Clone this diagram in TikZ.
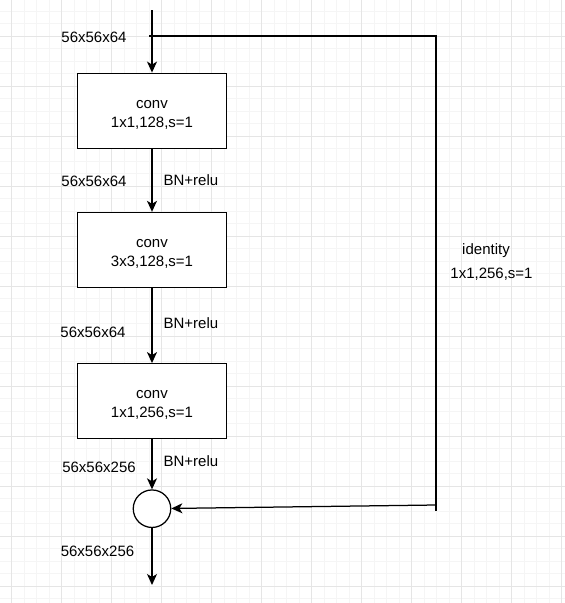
\documentclass[tikz,border=0pt]{standalone}
\usepackage{fontspec}
\setmainfont{Liberation Sans}
\usepackage{tikz}
\usetikzlibrary{positioning}
\usetikzlibrary{arrows.meta}

\tikzset{
    minorgrid/.style={draw=black!4,line width=0.8pt},
    majorgrid/.style={draw=black!10,line width=0.8pt},
    convbox/.style={rectangle,draw,fill=white,minimum width=149pt,minimum height=75pt,align=center},
    dimlabel/.style={inner sep=0pt,anchor=base},
    actlabel/.style={inner sep=0pt,anchor=base west}
}
\newcommand{\boxtop}{\rule{0pt}{16pt}}

\begin{document}
\begin{tikzpicture}[x=1pt,y=-1pt,line width=1.25pt,>={Stealth[length=11pt,width=10pt,inset=3pt]},font=\fontsize{15}{19}\selectfont]
    \useasboundingbox (0,0) rectangle (565,603);
    \fill[white] (0,0) rectangle (565,603);
    % grid
    \foreach \k in {-1,...,44} \draw[minorgrid] ({11.7+12.5*\k},0) -- ({11.7+12.5*\k},603);
    \foreach \k in {-2,...,45} \draw[minorgrid] (0,{36+12.5*\k}) -- (565,{36+12.5*\k});
    \foreach \k in {0,...,11} \draw[majorgrid] ({11.7+50*\k},0) -- ({11.7+50*\k},603);
    \foreach \k in {0,...,11} \draw[majorgrid] (0,{36+50*\k}) -- (565,{36+50*\k});

    \node[convbox] (C1) at (152,110.7) {\boxtop conv\\1x1,128,s=1};
    \node[convbox] (C2) [below=63pt of C1] {\boxtop conv\\3x3,128,s=1};
    \node[convbox] (C3) [below=75pt of C2] {\boxtop conv\\1x1,256,s=1};
    \node[circle,draw,fill=white,minimum size=37.5pt,inner sep=0pt] (A) [below=50pt of C3] {};

    \coordinate (top) at (152,10);
    \coordinate (split) at (149,36);
    \coordinate (corner) at (436,36);
    \coordinate (tail) at (436,510.7);
    \coordinate (back) at (436,505);
    \coordinate (out) at (152,585);

    \draw[->] (top) -- (C1);
    \draw[->] (C1) -- (C2);
    \draw[->] (C2) -- (C3);
    \draw[->] (C3) -- (A);
    \draw[->] (A) -- (out);
    \draw (split) -- (corner) -- (tail);
    \draw[->] (back) -- (A);

    \node[dimlabel] (D0) at (94,42.5) {56x56x64};
    \node[dimlabel] (D1) at (94,186) {56x56x64};
    \node[dimlabel] (D2) at (93,337) {56x56x64};
    \node[dimlabel] (D3) at (99,472.5) {56x56x256};
    \node[dimlabel] (D4) at (97.5,556.5) {56x56x256};
    \node[actlabel] (R1) at (163,185.5) {BN+relu};
    \node[actlabel] (R2) at (163,328.5) {BN+relu};
    \node[actlabel] (R3) at (163,466.5) {BN+relu};
    \node[dimlabel] (I1) at (486,254.5) {identity};
    \node[dimlabel] (I2) at (491.5,278.5) {1x1,256,s=1};
\end{tikzpicture}
\end{document}
